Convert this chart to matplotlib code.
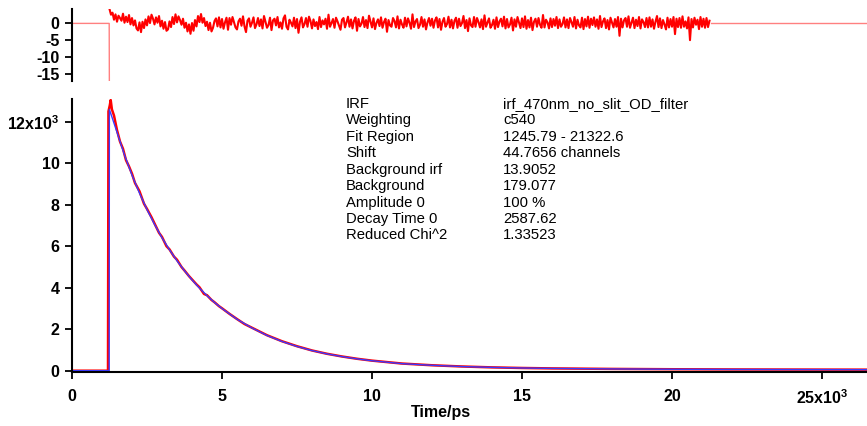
import numpy as np
import matplotlib
matplotlib.use('Agg')
import matplotlib.pyplot as plt

plt.rcParams['font.family'] = ['Liberation Sans', 'DejaVu Sans']
plt.rcParams['mathtext.fontset'] = 'custom'
plt.rcParams['mathtext.rm'] = 'Liberation Sans:bold'
plt.rcParams['mathtext.bf'] = 'Liberation Sans:bold'

# Decay data (red), time in ps, counts
data_t = [0, 1200, 1215, 1260, 1290, 1330, 1400, 1500, 1600, 1700, 1800, 1900,
          2000, 2100, 2250, 2400, 2500, 2650, 2750, 2900, 3000, 3150, 3250, 3400,
          3500, 3650, 3750, 3900, 4000, 4150, 4250, 4400, 4500, 4650, 4750, 4900,
          5000, 5250, 5500, 5750, 6000, 6500, 7000, 7500, 8000, 8500, 9000, 9500,
          10000, 11000, 12000, 13000, 14000, 15000, 16000, 18000, 20000, 22000,
          24000, 26500]
data_counts = [0, 0, 12500, 12800, 13050, 12600, 12300, 11600, 11050, 10700, 10150, 9850,
               9500, 9050, 8650, 8050, 7800, 7400, 7100, 6650, 6450, 6000, 5850, 5500,
               5350, 5000, 4830, 4560, 4400, 4160, 4020, 3700, 3640, 3410, 3300, 3110,
               3010, 2740, 2490, 2250, 2070, 1710, 1420, 1180, 975, 815, 685, 575,
               485, 345, 262, 203, 160, 131, 110, 86, 70, 60,
               55, 50]

# Fit curve (blue)
fit_t = [0, 1240, 1246, 1500, 1750, 2000, 2250, 2500, 2750, 3000, 3250, 3500,
         3750, 4000, 4250, 4500, 4750, 5000, 5500, 6000, 6500, 7000, 7500, 8000,
         8500, 9000, 9500, 10000, 11000, 12000, 13000, 14000, 15000, 16000, 18000,
         20000, 22000, 24000, 26500]
fit_counts = [0, 0, 12600, 11500, 10400, 9430, 8560, 7770, 7060, 6410, 5830, 5300,
              4820, 4380, 3980, 3620, 3290, 3000, 2480, 2060, 1700, 1410, 1170, 970,
              810, 680, 570, 480, 340, 260, 200, 160, 130, 110, 85,
              70, 60, 55, 50]

# Weighted residuals inside the fit region, one every 50 ps from 1250 ps
res_start = 1250
res_step = 50
residuals = [
    4.3, 2.6, 3.2, 1.1, 2.7, 0.5, 2.3, 1.6, 0.8, 2.9, 0.2, 2.0, 0.4, 2.5, -0.3, 1.6, -0.6, 0.9, -1.5, -2.1,
    0.3, -2.6, 0.5, -1.4, 1.2, -0.6, 2.1, 0.1, 2.6, 1.4, -0.3, 1.8, 0.2, 2.2, -0.9, 0.8, -1.6, 0.4, -2.2, -1.8,
    0.6, -1.1, 1.9, -0.2, 2.7, 0.3, 2.1, 1.0, -0.4, 1.4, -1.3, 0.2, -2.4, -0.3, -3.1, 0.1, -2.2, 1.0, -0.9, 2.2,
    0.4, 2.8, 0.2, 1.6, -0.8, 0.5, -2.0, 0.2, -2.4, -1.3, 0.7, 1.5, -0.9, 1.8, -1.2, 1.3, -1.6, 0.3, 1.7, -1.9,
    1.6, -0.4, 1.9, 0.3, -1.2, -1.8, 0.6, 1.4, -0.7, 2.1, -0.9, -2.6, 0.8, 1.5, -1.0, 0.2, 1.8, -1.4, -0.3, 1.6,
    -0.8, 1.2, -1.5, 2.2, 0.4, -1.3, -0.5, 1.7, -2.0, 0.9, 1.4, -0.6, 1.9, -1.2, 0.3, -1.6, 1.5, 2.4, -1.0, -1.8,
    1.1, 0.2, -0.9, 1.7, -1.4, 1.3, -2.8, 0.5, 1.8, -1.2, -0.2, 1.6, -1.0, 2.0, 0.7, -1.5, 1.2, -0.8, 0.4, -1.7,
    1.9, -1.1, 0.9, -0.3, 1.4, -1.6, 2.6, -1.0, 0.1, 1.3, -1.3, 1.7, 0.6, -0.7, -1.9, 1.1, 1.6, -1.2, 0.3, 2.0,
    -1.0, 1.2, -1.5, 0.8, 1.8, -2.2, 1.3, -0.9, -0.1, 1.9, -1.1, 1.0, -1.4, 2.3, 0.5, -1.2, 1.5, -1.7, 0.2, 1.2,
    -0.8, 1.8, -1.3, 0.4, 1.4, -2.5, 1.0, -0.6, -1.0, 1.6, 0.7, -1.2, 2.1, -1.5, 1.1, -0.3, -1.3, 1.7, -0.9, 1.5,
    0.2, -1.6, 2.7, -1.1, 0.6, 1.3, -1.4, -0.4, 1.9, -1.0, 1.2, -1.8, 0.3, 1.6, -0.7, 1.4, -1.3, 0.9, 1.8, -1.2,
    1.3, -1.9, 0.5, 1.6, -1.0, -0.2, 2.0, -1.2, 1.1, -1.5, 0.8, 1.7, -1.3, 1.4, -0.8, 0.1, 2.2, -1.4, 1.0, -2.3,
    1.5, -0.6, -1.1, 1.9, -1.0, 1.6, 0.4, -1.2, 1.2, -1.7, 2.4, -1.0, 0.3, 1.5, -1.3, -0.5, 1.1, -1.6, 1.8, -1.1,
    0.6, 1.4, -0.9, 2.0, -1.5, 1.3, -1.2, -0.3, 1.7, -2.1, 1.2, -1.0, 1.9, 0.2, -1.4, 1.5, -1.1, 2.1, -1.6, 1.0,
    -1.2, 1.7, -2.0, 0.5, 1.4, -1.0, 1.6, -0.4, -1.3, 2.5, -1.2, 1.1, 0.3, -1.5, 1.5, -1.1, 1.3, -0.7, 1.9, -1.4,
    1.2, -1.0, -0.2, 1.8, -1.2, 1.2, -1.4, 1.6, 0.4, -1.0, 1.9, -1.5, 1.1, -0.6, -1.2, 1.7, -1.7, 1.3, -0.9, 2.0,
    -1.3, 1.4, -0.5, 1.8, -1.0, 1.2, -1.6, 2.2, -1.1, 0.6, 1.5, -1.4, 1.0, -1.8, 1.7, 0.3, -1.2, 1.3, -1.0, 1.9,
    -3.7, 1.4, -1.2, 0.9, 1.6, -1.0, 2.1, -1.3, 0.2, 1.7, -1.4, 1.1, -0.8, 1.9, -1.5, 1.2, 0.4, -1.1, 1.6, -1.2,
    1.8, -1.0, 1.2, -1.6, 0.5, 2.2, -1.1, 1.5, -1.4, 1.0, -0.3, -1.8, 1.7, -1.2, 1.3, -1.0, 1.9, -3.2, 1.4, -1.1,
    1.6, -1.3, 2.1, -1.0, 0.6, -1.5, 1.8, -5.0, 1.3, -1.2, 1.7, -0.4, 1.1, -1.7, 1.9, -1.0, 1.4, -1.3, 1.6, -1.1, 0.8,
]
res_t = res_start + res_step * np.arange(len(residuals))

# Residual trace outside the fit region
pre_t = [0, 1240, 1245]
pre_res = [0, 0, -17.2]
post_t = [21300, 26500]
post_res = [0, 0]

info_keys = ['IRF', 'Weighting', 'Fit Region', 'Shift', 'Background irf',
             'Background', 'Amplitude 0', 'Decay Time 0', 'Reduced Chi^2']
info_vals = ['irf_470nm_no_slit_OD_filter', 'c540', '1245.79 - 21322.6',
             '44.7656 channels', '13.9052', '179.077', '100 %', '2587.62', '1.33523']

x_ticks = [0, 5000, 10000, 15000, 20000, 25000]
x_labels = ['0', '5', '10', '15', '20', '25x$10^{3}$']
y_ticks = [0, 2000, 4000, 6000, 8000, 10000, 12000]
y_labels = ['0', '2', '4', '6', '8', '10', '12x$10^{3}$']
r_ticks = [0, -5, -10, -15]
r_labels = ['0', '-5', '-10', '-15']

W, H = 867, 426
fig = plt.figure(figsize=(W / 100, H / 100), dpi=100)
ax_r = fig.add_axes([72 / W, 1 - 81 / H, 795 / W, 72 / H])
ax = fig.add_axes([72 / W, 1 - 372 / H, 795 / W, 273 / H])

# residual panel
ax_r.plot(pre_t, pre_res, color='#ff8080', lw=1.0)
ax_r.plot(post_t, post_res, color='#ff8080', lw=1.0)
ax_r.plot(res_t, residuals, color='#ff0000', lw=1.5)
ax_r.set_xlim(0, 26500)
ax_r.set_ylim(-17.2, 4.3)
ax_r.set_yticks(r_ticks)
ax_r.set_yticklabels(r_labels)
ax_r.set_xticks([])
for s in ['top', 'right', 'bottom']:
    ax_r.spines[s].set_visible(False)

# decay panel
ax.plot(data_t, data_counts, color='#ff0000', lw=1.8)
ax.plot(fit_t, fit_counts, color='#3a3aff', lw=1.0)
ax.set_xlim(0, 26500)
ax.set_ylim(-63, 13100)
ax.set_xticks(x_ticks)
ax.set_xticklabels(x_labels)
ax.set_yticks(y_ticks)
ax.set_yticklabels(y_labels)
for s in ['top', 'right']:
    ax.spines[s].set_visible(False)

for a in [ax, ax_r]:
    for s in ['left', 'bottom']:
        a.spines[s].set_linewidth(1.5)
    a.tick_params(direction='out', length=5, width=1.3, labelsize=11.5, pad=4)
    for lab in a.get_xticklabels() + a.get_yticklabels():
        lab.set_fontweight('bold')
ax.tick_params(axis='x', pad=7)

fig.text(441 / W, 1 - 413 / H, 'Time/ps', ha='center', va='center',
         fontsize=11.5, fontweight='bold')

fig.text(346 / W, 1 - 97 / H, '\n'.join(info_keys), ha='left', va='top',
         fontsize=10.7, linespacing=1.22)
fig.text(503 / W, 1 - 97 / H, '\n'.join(info_vals), ha='left', va='top',
         fontsize=10.7, linespacing=1.22)

fig.savefig('out.png', dpi=100)
